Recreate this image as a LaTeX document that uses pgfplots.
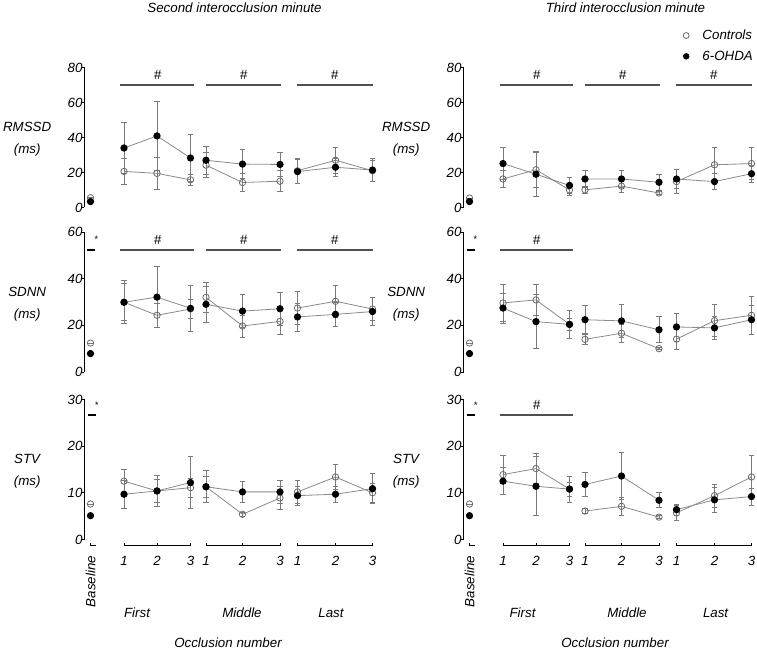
\documentclass[border=0pt]{standalone}
\usepackage{fontspec}
\setmainfont{Liberation Sans}
\usepackage{pgfplots}
\usepackage{pgfplotstable}
\pgfplotsset{compat=1.18}

% columns: x position, controls mean, controls sem, 6-OHDA mean, 6-OHDA sem
\pgfplotstableread{
x c ce o oe
6 5.6 0 3.4 0
nan nan nan nan nan
39.5 20.6 7.5 34.0 14.6
72.5 19.5 9.4 40.9 19.9
106 15.8 3.0 28.3 13.5
nan nan nan nan nan
121.5 24.2 7.0 27.0 8.0
158 14.3 5.0 24.8 8.3
195.5 15.0 6.0 24.6 7.0
nan nan nan nan nan
213 21.0 7.0 20.5 7.0
251 27.0 7.5 23.0 5.0
288 21.0 6.0 21.4 6.5
}\LRMSSD
\pgfplotstableread{
x c ce o oe
6 5.4 0 3.4 0
nan nan nan nan nan
39.5 16.3 5.0 25.1 9.2
72.5 21.6 10.0 19.0 12.8
106 10.0 3.0 12.6 4.5
nan nan nan nan nan
121.5 10.1 2.0 16.3 5.0
158 12.2 3.5 16.3 5.0
195.5 8.3 1.0 14.4 4.7
nan nan nan nan nan
213 14.8 6.8 16.3 5.5
251 24.4 9.8 14.8 4.5
288 25.1 9.0 19.3 5.0
}\RRMSSD
\pgfplotstableread{
x c ce o oe
6 12.4 0 7.9 0
nan nan nan nan nan
39.5 29.9 8.0 29.9 9.2
72.5 24.3 5.3 32.1 13.0
106 27.0 4.0 27.3 10.0
nan nan nan nan nan
121.5 32.0 6.4 29.0 7.6
158 19.7 4.7 26.1 7.0
195.5 21.7 5.6 27.1 7.0
nan nan nan nan nan
213 27.4 7.0 23.6 6.0
251 30.3 6.9 24.7 5.0
288 27.0 5.0 25.9 6.0
}\LSDNN
\pgfplotstableread{
x c ce o oe
6 12.4 0 7.9 0
nan nan nan nan nan
39.5 29.6 8.0 27.4 6.4
72.5 30.9 6.6 21.6 11.6
106 20.4 2.5 20.4 6.0
nan nan nan nan nan
121.5 14.0 2.0 22.4 6.0
158 16.6 4.0 21.9 7.0
195.5 10.0 0.5 18.1 5.6
nan nan nan nan nan
213 14.1 4.6 19.3 6.0
251 22.0 6.9 18.9 4.9
288 24.3 8.0 22.4 6.3
}\RSDNN
\pgfplotstableread{
x c ce o oe
6 7.6 0 5.1 0
nan nan nan nan nan
39.5 12.5 2.5 9.7 3.0
72.5 10.4 2.5 10.4 3.3
106 11.1 2.0 12.2 5.6
nan nan nan nan nan
121.5 11.3 2.2 11.3 3.4
158 5.4 0.5 10.2 2.2
195.5 8.9 2.5 10.2 2.4
nan nan nan nan nan
213 10.2 2.5 9.4 2.0
251 13.4 2.7 9.7 1.7
288 10.0 2.0 10.9 3.2
}\LSTV
\pgfplotstableread{
x c ce o oe
6 7.6 0 5.1 0
nan nan nan nan nan
39.5 13.9 4.2 12.5 2.9
72.5 15.2 3.2 11.4 6.3
106 10.8 1.5 10.8 2.8
nan nan nan nan nan
121.5 6.1 0.5 11.8 2.6
158 7.1 2.0 13.6 5.1
195.5 4.8 0.3 8.4 1.6
nan nan nan nan nan
213 5.7 1.6 6.4 1.2
251 9.4 2.5 8.5 2.7
288 13.4 4.6 9.2 1.8
}\RSTV

\definecolor{lgray}{HTML}{8A8A8A}
\definecolor{egray}{HTML}{7A7A7A}
\definecolor{mgray}{HTML}{6A6A6A}
\definecolor{sgray}{HTML}{505050}

\pgfplotsset{
 panel/.style={
  scale only axis, width=219pt, height=105pt,
  xmin=0, xmax=292, ymin=0, clip=false,
  axis lines=left, axis line style={-, line width=0.6pt},
  x axis line style={draw=none},
  xtick style={draw=none},
  ytick style={line width=0.6pt, black},
  tick align=outside, major tick length=2.25pt,
  /pgf/number format/assume math mode=true,
  yticklabel style={inner sep=0.5pt, xshift=1.5pt},
  xticklabel style={yshift=-6.5pt},
  xtick=\empty,
  every axis y label/.style={at={(axis description cs:0,0.5)}, anchor=center, xshift=-43pt, yshift=-1.5pt, align=center},
  unbounded coords=jump,
 },
 ebars/.style={
  error bars/y dir=both, error bars/y explicit,
  error bars/error mark=-,
  error bars/error bar style={egray, line width=0.55pt},
  error bars/error mark options={rotate=90, egray, mark size=2pt, line width=0.6pt}},
 ctrl/.style={ebars, color=lgray, line width=0.6pt, mark=o, mark size=2.4pt,
  mark options={fill=white, draw=mgray, line width=0.6pt}},
 ohda/.style={ebars, color=lgray, line width=0.6pt, mark=*, mark size=2.4pt,
  mark options={fill=black, draw=black}},
 bottom/.style={
  xtick={6,39.5,72.5,106,121.5,158,195.5,213,251,288},
  xticklabels={\rotatebox{90}{Baseline},1,2,3,1,2,3,1,2,3},
 },
}
\tikzset{
 hbar/.style={draw=sgray, line width=1.5pt},
 sbar/.style={draw=black, line width=1.5pt},
 seg/.style={draw=black, line width=0.6pt},
}

\newcommand{\segs}{%
 \draw[seg] (axis cs:6,-0.65) -- (axis cs:6,-1.29) -- (axis cs:11,-1.29);
 \draw[seg] (axis cs:39.5,-0.65) -- (axis cs:39.5,-1.29) -- (axis cs:106,-1.29) -- (axis cs:106,-0.65);
 \draw[seg] (axis cs:72.5,-0.65) -- (axis cs:72.5,-1.29);
 \draw[seg] (axis cs:121.5,-0.65) -- (axis cs:121.5,-1.29) -- (axis cs:195.5,-1.29) -- (axis cs:195.5,-0.65);
 \draw[seg] (axis cs:158,-0.65) -- (axis cs:158,-1.29);
 \draw[seg] (axis cs:213,-0.65) -- (axis cs:213,-1.29) -- (axis cs:288,-1.29) -- (axis cs:288,-0.65);
 \draw[seg] (axis cs:251,-0.65) -- (axis cs:251,-1.29);
}

\begin{document}
\itshape
\begin{tikzpicture}
\path[use as bounding box] (0,0) rectangle (567.75pt,489pt);

% ---------- Left column ----------
\begin{axis}[panel, at={(63.375pt,333.375pt)}, anchor=south west,
  ymax=80, ytick={0,20,40,60,80}, ylabel={RMSSD\\[4.5pt](ms)}]
 \addplot[ctrl] table[x=x, y=c, y error=ce] {\LRMSSD};
 \addplot[ohda] table[x=x, y=o, y error=oe] {\LRMSSD};
 \draw[hbar] (axis cs:36,70) -- (axis cs:109,70);
 \draw[hbar] (axis cs:121,70) -- (axis cs:196,70);
 \draw[hbar] (axis cs:212,70) -- (axis cs:288,70);
 \node at (axis cs:73,75.7) {\#};
 \node at (axis cs:159,75.7) {\#};
 \node at (axis cs:250,75.7) {\#};
\end{axis}

\begin{axis}[panel, at={(63.375pt,210pt)}, anchor=south west,
  ymax=60, ytick={0,20,40,60}, ylabel={SDNN\\[4.5pt](ms)}]
 \addplot[ctrl] table[x=x, y=c, y error=ce] {\LSDNN};
 \addplot[ohda] table[x=x, y=o, y error=oe] {\LSDNN};
 \draw[sbar] (axis cs:3,52.2) -- (axis cs:11,52.2);
 \node[font=\scriptsize] at (axis cs:11.5,56.8) {*};
 \draw[hbar] (axis cs:36,52.2) -- (axis cs:109,52.2);
 \draw[hbar] (axis cs:121,52.2) -- (axis cs:196,52.2);
 \draw[hbar] (axis cs:212,52.2) -- (axis cs:288,52.2);
 \node at (axis cs:73,56.5) {\#};
 \node at (axis cs:159,56.5) {\#};
 \node at (axis cs:250,56.5) {\#};
\end{axis}

\begin{axis}[panel, bottom, at={(63.375pt,84.375pt)}, anchor=south west,
  ymax=30, ytick={0,10,20,30}, ylabel={STV\\[4.5pt](ms)}]
 \addplot[ctrl] table[x=x, y=c, y error=ce] {\LSTV};
 \addplot[ohda] table[x=x, y=o, y error=oe] {\LSTV};
 \draw[sbar] (axis cs:3,26.6) -- (axis cs:11,26.6);
 \node[font=\scriptsize] at (axis cs:12,28.7) {*};
 \segs
\end{axis}

% ---------- Right column ----------
\begin{axis}[panel, at={(347.625pt,333.375pt)}, anchor=south west,
  ymax=80, ytick={0,20,40,60,80}, ylabel={RMSSD\\[4.5pt](ms)},
  legend cell align=left,
  legend style={draw=none, fill=none, at={(axis description cs:0.738,1.31)}, anchor=north west, row sep=3pt,
    /tikz/every odd column/.append style={column sep=8pt}}]
 \addlegendimage{only marks, mark=o, mark size=2.2pt, mark options={draw=mgray, fill=white, line width=0.6pt}}
 \addlegendentry{Controls}
 \addlegendimage{only marks, mark=*, mark size=2.2pt, mark options={draw=black, fill=black}}
 \addlegendentry{6-OHDA}
 \addplot[forget plot, ctrl] table[x=x, y=c, y error=ce] {\RRMSSD};
 \addplot[forget plot, ohda] table[x=x, y=o, y error=oe] {\RRMSSD};
 \draw[hbar] (axis cs:36,70) -- (axis cs:109,70);
 \draw[hbar] (axis cs:121,70) -- (axis cs:196,70);
 \draw[hbar] (axis cs:212,70) -- (axis cs:288,70);
 \node at (axis cs:73,75.7) {\#};
 \node at (axis cs:159,75.7) {\#};
 \node at (axis cs:250,75.7) {\#};
\end{axis}

\begin{axis}[panel, at={(347.625pt,210pt)}, anchor=south west,
  ymax=60, ytick={0,20,40,60}, ylabel={SDNN\\[4.5pt](ms)}]
 \addplot[ctrl] table[x=x, y=c, y error=ce] {\RSDNN};
 \addplot[ohda] table[x=x, y=o, y error=oe] {\RSDNN};
 \draw[sbar] (axis cs:3,52.2) -- (axis cs:11,52.2);
 \node[font=\scriptsize] at (axis cs:11.5,56.8) {*};
 \draw[hbar] (axis cs:36,52.2) -- (axis cs:109,52.2);
 \node at (axis cs:73,56.5) {\#};
\end{axis}

\begin{axis}[panel, bottom, at={(347.625pt,84.375pt)}, anchor=south west,
  ymax=30, ytick={0,10,20,30}, ylabel={STV\\[4.5pt](ms)}]
 \addplot[ctrl] table[x=x, y=c, y error=ce] {\RSTV};
 \addplot[ohda] table[x=x, y=o, y error=oe] {\RSTV};
 \draw[sbar] (axis cs:3,26.6) -- (axis cs:11,26.6);
 \node[font=\scriptsize] at (axis cs:12,28.7) {*};
 \draw[hbar] (axis cs:36,26.6) -- (axis cs:109,26.6);
 \node at (axis cs:73,28.8) {\#};
 \segs
\end{axis}

% ---------- Titles and group labels ----------
\node at (175.875pt,483pt) {Second interocclusion minute};
\node at (469.125pt,483pt) {Third interocclusion minute};
\node at (102.75pt,29.25pt) {First};
\node at (181.5pt,29.25pt) {Middle};
\node at (248.25pt,29.25pt) {Last};
\node at (391.875pt,29.25pt) {First};
\node at (470.25pt,29.25pt) {Middle};
\node at (536.7pt,29.25pt) {Last};
\node at (171pt,6.75pt) {Occlusion number};
\node at (461.25pt,6.75pt) {Occlusion number};
\end{tikzpicture}
\end{document}
